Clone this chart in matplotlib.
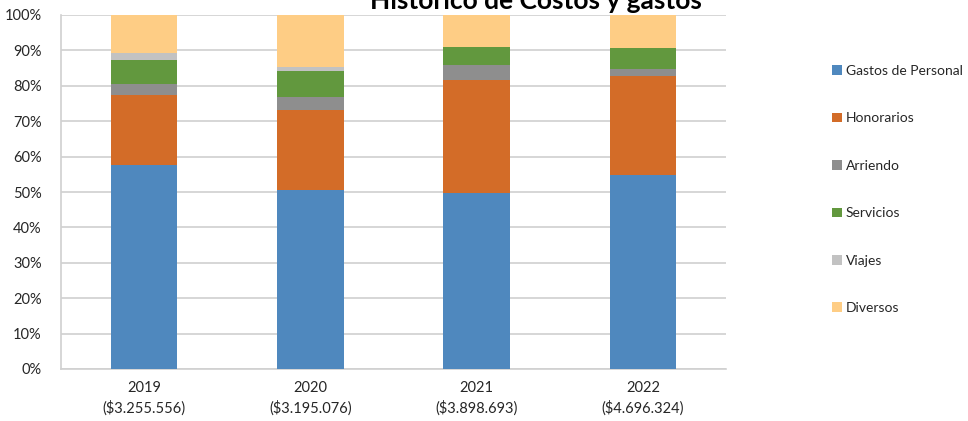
import matplotlib

matplotlib.use("Agg")
import matplotlib.pyplot as plt
import numpy as np

plt.rcParams["font.family"] = ["Lato", "DejaVu Sans"]

years = ["2019", "2020", "2021", "2022"]
totals = ["($3.255.556)", "($3.195.076)", "($3.898.693)", "($4.696.324)"]
series = ["Gastos de Personal", "Honorarios", "Arriendo", "Servicios", "Viajes", "Diversos"]

# shares in percent
gastos_personal = [57.6, 50.7, 49.6, 54.8]
honorarios = [19.8, 22.5, 32.0, 28.1]
arriendo = [3.0, 3.5, 4.4, 1.9]
servicios = [6.8, 7.6, 5.0, 5.8]
viajes = [2.2, 1.1, 0.1, 0.1]
diversos = [10.6, 14.6, 8.9, 9.3]

colors = ["#4F88BE", "#D36C28", "#8E8E8E", "#62983E", "#C2C2C2", "#FECD85"]

fig = plt.figure(figsize=(9.68, 4.21), dpi=100)
ax = fig.add_axes([61 / 968, 1 - 369 / 421, 665 / 968, 354 / 421])

x = np.arange(len(years))
bottom = np.zeros(len(years))
handles = []
for name, vals, c in zip(series,
                         [gastos_personal, honorarios, arriendo, servicios, viajes, diversos],
                         colors):
    vals = np.asarray(vals, dtype=float)
    h = ax.bar(x, vals, 0.4, bottom=bottom, color=c, label=name, zorder=3)
    handles.append(h)
    bottom += vals

ax.set_xlim(-0.5, len(years) - 0.5)
ax.set_ylim(0, 100)
ax.set_yticks(np.arange(0, 101, 10))
ax.set_yticklabels([f"{v}%" for v in range(0, 101, 10)], fontsize=10.5, color="#262626")
ax.set_xticks(x)
ax.set_xticklabels([f"{y}\n{t}" for y, t in zip(years, totals)],
                   fontsize=10.5, color="#262626", linespacing=1.4)
ax.tick_params(axis="y", length=0, pad=14)
ax.tick_params(axis="x", length=0, pad=9)
ax.grid(axis="y", color="#D0D0D0", lw=1.2, zorder=0)
for s in ["top", "right"]:
    ax.spines[s].set_visible(False)
for s in ["left", "bottom"]:
    ax.spines[s].set_color("#D0D0D0")
    ax.spines[s].set_linewidth(1.2)

# title sits partly above the top edge, as in the source image
fig.text(536 / 968, 1 - 1 / 421, "Histórico de Costos y gastos",
         ha="center", va="center", fontsize=19, fontweight="bold", color="black")

fig.legend(handles=handles, loc="upper left",
           bbox_to_anchor=(832 / 968, 1 - 65 / 421),
           frameon=False, fontsize=10, labelspacing=2.55,
           handlelength=0.7, handleheight=0.7, handletextpad=0.3,
           borderpad=0, borderaxespad=0, labelcolor="#262626")

fig.savefig("out.png", dpi=100)
